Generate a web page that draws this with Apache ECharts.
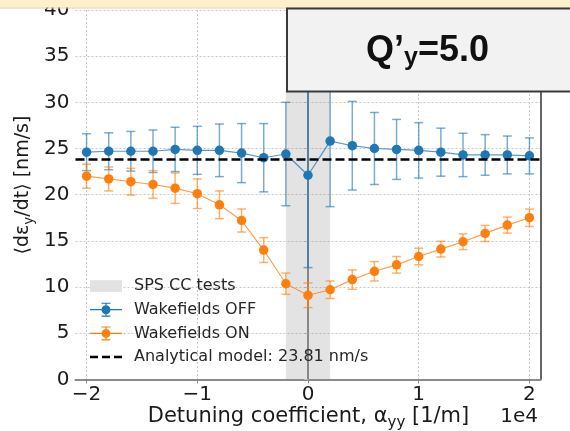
<!DOCTYPE html>
<html><head><meta charset="utf-8">
<script src="https://cdn.jsdelivr.net/npm/echarts@6/dist/echarts.min.js"></script>
<style>html,body{margin:0;padding:0;background:#fff}#c{width:570px;height:431px}</style>
</head><body><div id="c"></div>
<script>
// ---- data ----
const alpha = [-2.0,-1.8,-1.6,-1.4,-1.2,-1.0,-0.8,-0.6,-0.4,-0.2,0.0,0.2,0.4,0.6,0.8,1.0,1.2,1.4,1.6,1.8,2.0];
const offVal = [24.6,24.7,24.7,24.7,24.9,24.8,24.8,24.5,24.0,24.4,22.1,25.8,25.3,25.0,24.9,24.8,24.6,24.3,24.3,24.3,24.2];
const offErr = [2.0,2.0,2.15,2.3,2.4,2.6,2.85,3.2,3.7,5.6,10.0,7.1,4.8,3.9,3.25,3.0,2.6,2.35,2.2,2.05,1.95];
const onVal  = [22.0,21.7,21.4,21.1,20.7,20.1,18.9,17.2,14.0,10.35,9.1,9.7,10.8,11.7,12.4,13.3,14.1,14.9,15.8,16.7,17.5];
const onErr  = [1.3,1.3,1.45,1.5,1.65,1.6,1.5,1.25,1.35,1.15,1.33,0.95,1.05,1.05,0.9,0.9,0.85,0.85,0.87,0.87,0.94];
const modelValue = 23.81;
const spsRange = [-0.2, 0.2];
const xTicks = [-2,-1,0,1,2];
const xRange = [-2.1, 2.1];
const yRange = [0, 40];
const names = ['SPS CC tests','Wakefields OFF','Wakefields ON','Analytical model: 23.81 nm/s'];

const BLUE = '#1f77b4', ORANGE = '#ff7f0e';
const FONT = 'DejaVu Sans';

function errRender(color){
  return function(params, api){
    const x = api.value(0), lo = api.value(1), hi = api.value(2);
    const p1 = api.coord([x, hi]), p2 = api.coord([x, lo]);
    const hw = 4.5;
    const st = {stroke: color, lineWidth: 1.5, opacity: 0.6};
    return {type:'group', children:[
      {type:'line', shape:{x1:p1[0], y1:p1[1], x2:p2[0], y2:p2[1]}, style: st},
      {type:'line', shape:{x1:p1[0]-hw, y1:p1[1], x2:p1[0]+hw, y2:p1[1]}, style: st},
      {type:'line', shape:{x1:p2[0]-hw, y1:p2[1], x2:p2[0]+hw, y2:p2[1]}, style: st}
    ]};
  };
}

const offErrData = alpha.map((a,i)=>[a, offVal[i]-offErr[i], offVal[i]+offErr[i]]);
const onErrData  = alpha.map((a,i)=>[a, onVal[i]-onErr[i], onVal[i]+onErr[i]]);

const ebIcon = 'path://M0 6.4H32V7.6H0Z M15.4 0H16.6V14H15.4Z M11.5 0H20.5V1.1H11.5Z M11.5 12.9H20.5V14H11.5Z M11.5 7A4.5 4.5 0 1 1 20.5 7A4.5 4.5 0 1 1 11.5 7Z';

const chart = echarts.init(document.getElementById('c'), null, {renderer:'canvas'});
chart.setOption({
  backgroundColor: '#fff',
  animation: false,
  grid: {left: 75.5, right: 29.5, top: 9.8, bottom: 51.7, containLabel: false},
  xAxis: {
    type: 'value', min: xRange[0], max: xRange[1],
    axisLine: {show: true, onZero: false, lineStyle: {color: '#8a8a8a', width: 2}},
    axisTick: {show: true, customValues: xTicks, length: 4, lineStyle: {color: '#8a8a8a'}},
    axisLabel: {customValues: xTicks, margin: 5, fontFamily: FONT, fontSize: 20, color: '#1a1a1a',
      formatter: v => String(v).replace('-', '\u2212')},
    splitLine: {show: true, lineStyle: {color: '#c8c8c8', type: [2, 2], width: 1}}
  },
  yAxis: [{
    type: 'value', min: yRange[0], max: yRange[1], interval: 5,
    axisLine: {show: true, lineStyle: {color: '#8a8a8a', width: 2}},
    axisTick: {show: true, length: 4, lineStyle: {color: '#bbbbbb'}},
    axisLabel: {margin: 6, fontFamily: FONT, fontSize: 20, color: '#1a1a1a'},
    splitLine: {show: true, lineStyle: {color: '#c8c8c8', type: [2, 2], width: 1}}
  }, {
    type: 'value', position: 'right', min: yRange[0], max: yRange[1],
    axisLine: {show: true, lineStyle: {color: '#333', width: 1.5}},
    axisTick: {show: false}, axisLabel: {show: false}, splitLine: {show: false}
  }],
  legend: {
    orient: 'vertical', left: 85, top: 273, padding: 5,
    itemWidth: 32, itemHeight: 14, itemGap: 7.7, symbolKeepAspect: true,
    textStyle: {fontFamily: FONT, fontSize: 16, color: '#262626', lineHeight: 16, padding: [0,0,0,7]},
    data: [
      {name: names[0], icon: 'path://M0 0H32V11.7H0Z', itemStyle: {color: '#e2e2e2', borderWidth: 0}},
      {name: names[1], icon: ebIcon, itemStyle: {color: BLUE, borderWidth: 0}},
      {name: names[2], icon: ebIcon, itemStyle: {color: ORANGE, borderWidth: 0}},
      {name: names[3], icon: 'path://M0 0H8V2.5H0Z M12 0H20V2.5H12Z M24 0H32V2.5H24Z', itemStyle: {color: '#000', borderWidth: 0}}
    ]
  },
  series: [
    {
      name: names[0], type: 'custom', z: 1,
      itemStyle: {color: '#e2e2e2'},
      data: [[spsRange[0], spsRange[1]]],
      encode: {x: [0, 1]},
      renderItem: function(params, api){
        const a = api.coord([api.value(0), yRange[1]]);
        const b = api.coord([api.value(1), yRange[0]]);
        return {type: 'rect', shape: {x: a[0], y: a[1], width: b[0]-a[0], height: b[1]-a[1]},
          style: {fill: 'rgba(128,128,128,0.22)'}};
      }
    },
    {name: names[1], type: 'custom', z: 3, data: offErrData, encode: {x: 0, y: [1, 2]}, renderItem: errRender(BLUE), itemStyle: {color: BLUE}},
    {name: names[1], type: 'line', z: 4, data: alpha.map((a,i)=>[a, offVal[i]]),
      symbol: 'circle', symbolSize: 9.5, itemStyle: {color: BLUE},
      lineStyle: {color: BLUE, width: 1.2, opacity: 0.75}},
    {name: names[2], type: 'custom', z: 5, data: onErrData, encode: {x: 0, y: [1, 2]}, renderItem: errRender(ORANGE), itemStyle: {color: ORANGE}},
    {name: names[2], type: 'line', z: 6, data: alpha.map((a,i)=>[a, onVal[i]]),
      symbol: 'circle', symbolSize: 9.5, itemStyle: {color: ORANGE},
      lineStyle: {color: ORANGE, width: 1.2, opacity: 0.75}},
    {name: names[3], type: 'line', z: 7, data: [[xRange[0], modelValue], [xRange[1], modelValue]],
      symbol: 'none', itemStyle: {color: '#000'},
      lineStyle: {color: '#000', width: 2.5, type: [9, 4]}}
  ],
  graphic: [
    {type: 'rect', z: 100, shape: {x: 0, y: -2, width: 570, height: 9.5}, style: {fill: '#fdf0cb'}},
    {type: 'line', z: 100, shape: {x1: 0, y1: 8, x2: 570, y2: 8}, style: {stroke: '#e0d2aa', lineWidth: 1}},
    {type: 'rect', z: 101, shape: {x: 287, y: 8.5, width: 300, height: 83}, style: {fill: '#f2f2f2', stroke: '#3a3a3a', lineWidth: 2}},
    {type: 'text', z: 102, x: 366, y: 50.8, style: {
      text: '{a|Q\u2019}{s|y}{a|=5.0}', align: 'left', verticalAlign: 'middle', fill: '#111',
      rich: {
        a: {fontSize: 36, fontWeight: 'bold', fontFamily: 'Liberation Sans', lineHeight: 40, fill: '#111'},
        s: {fontSize: 25, fontWeight: 'bold', fontFamily: 'Liberation Sans', lineHeight: 7, verticalAlign: 'bottom', fill: '#111'}
      }}},
    {type: 'text', z: 50, x: 23, y: 185, rotation: Math.PI/2, style: {
      text: '{a|\u27E8d\u03B5}{s|y}{a|/dt\u27E9 [nm/s]}', align: 'center', verticalAlign: 'middle', fill: '#1a1a1a',
      rich: {
        a: {fontSize: 19, fontFamily: FONT, lineHeight: 26, fill: '#1a1a1a'},
        s: {fontSize: 13.5, fontFamily: FONT, lineHeight: 14, verticalAlign: 'bottom', fill: '#1a1a1a'}
      }}},
    {type: 'text', z: 50, x: 308.5, y: 417, style: {
      text: '{a|Detuning coefficient, \u03B1}{s|yy}{a| [1/m]}', align: 'center', verticalAlign: 'middle', fill: '#1a1a1a',
      rich: {
        a: {fontSize: 21, fontFamily: FONT, lineHeight: 28, fill: '#1a1a1a'},
        s: {fontSize: 15, fontFamily: FONT, lineHeight: 15, verticalAlign: 'bottom', fill: '#1a1a1a'}
      }}},
    {type: 'text', z: 50, x: 538, y: 417, style: {text: '1e4', align: 'right', verticalAlign: 'middle',
      fontSize: 20, fontFamily: FONT, fill: '#1a1a1a'}}
  ]
});
</script></body></html>
